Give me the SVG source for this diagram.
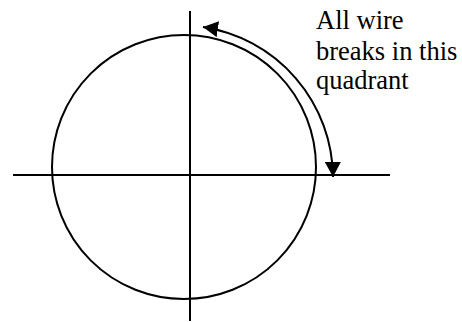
<svg xmlns="http://www.w3.org/2000/svg" width="462" height="322" viewBox="0 0 462 322">
<style>
.ln{stroke:#000;stroke-width:2;fill:none}
.lbl{font-family:"Liberation Serif","Times New Roman",serif;font-size:26.5px;fill:#000}
</style>
<defs>
<marker id="ah" viewBox="0 0 15 16" markerWidth="15" markerHeight="16" markerUnits="userSpaceOnUse" refX="15" refY="8" orient="auto-start-reverse">
<path d="M0,0 L15,8 L0,16 z" fill="#000"/>
</marker>
</defs>
<rect width="462" height="322" fill="#fff"/>
<g id="circle"><circle class="ln" cx="184" cy="167" r="132"/></g>
<g id="axes">
<line class="ln" x1="190" y1="11" x2="190" y2="321"/>
<line class="ln" x1="13" y1="175" x2="390" y2="175"/>
</g>
<g id="connectors">
<path class="ln" d="M203 27 A153 153 0 0 1 333 177" marker-start="url(#ah)" marker-end="url(#ah)"/>
</g>
<g id="label">
<text class="lbl" x="316" y="29">All wire</text>
<text class="lbl" x="316" y="60">breaks in this</text>
<text class="lbl" x="316" y="89">quadrant</text>
</g>
</svg>
